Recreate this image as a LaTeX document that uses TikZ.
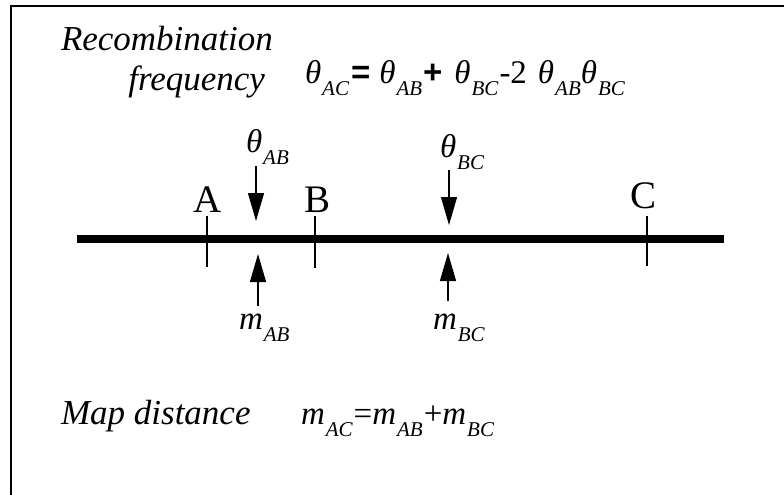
\documentclass[tikz,border=0pt]{standalone}
\usepackage{fontspec}
\setmainfont{Liberation Serif}
\setsansfont{Liberation Sans}
\usetikzlibrary{arrows.meta}
\newcommand\gth{{\itshape θ}}
\newcommand\sbs[1]{\raisebox{-12pt}{\fontsize{21}{21}\selectfont\itshape #1}}
\newcommand\msym{{\itshape m}}
\newcommand\opsym[1]{{\sffamily\bfseries #1}}
\begin{document}
\begin{tikzpicture}[x=1pt,y=-1pt,
  lbl/.style={inner sep=0pt,outer sep=0pt},
  bigtxt/.style={lbl,font=\fontsize{35}{38}\selectfont\itshape},
  eq/.style={lbl,font=\fontsize{33}{36}\selectfont},
  locus/.style={lbl,font=\fontsize{39}{40}\selectfont},
  tick/.style={line width=1.2pt},
  chrom/.style={line width=8pt},
  arr/.style={line width=1.2pt,-{Triangle[width=16pt,length=28pt]}}]
\useasboundingbox (0,0) rectangle (784,495);
\fill[white] (0,0) rectangle (784,495);
% frame (left and top)
\draw[line width=1.6pt] (11,495) -- (11,6) -- (784,6);
% text
\node[bigtxt,anchor=base west] (rec) at (61,51) {Recombination};
\node[bigtxt,anchor=base east] (freq) at (265,90) {frequency};
\node[eq,anchor=base west] (feq) at (305,84) {\gth\kern1pt\sbs{AC}\kern2pt\opsym{=}\kern9pt\gth\kern1pt\sbs{AB}\kern1pt\opsym{+}\kern12pt\gth\kern1pt\sbs{BC}\kern1pt-2\kern11pt\gth\kern1pt\sbs{AB}\gth\kern1pt\sbs{BC}};
\node[bigtxt,anchor=base west] (map) at (61,424) {Map distance};
\node[eq,anchor=base west] (meq) at (301,424) {\msym\kern1pt\sbs{AC}\kern1pt=\msym\kern1pt\sbs{AB}\kern1pt+\msym\kern1pt\sbs{BC}};
% chromosome
\coordinate (L) at (77,239);
\coordinate (R) at (724,239);
\draw[chrom] (L) -- (R);
% ticks
\coordinate (tA1) at (207,216); \coordinate (tA2) at (207,267);
\coordinate (tB1) at (315,216); \coordinate (tB2) at (315,268);
\coordinate (tC1) at (647,216); \coordinate (tC2) at (647,266);
\draw[tick] (tA1) -- (tA2);
\draw[tick] (tB1) -- (tB2);
\draw[tick] (tC1) -- (tC2);
\node[locus,anchor=base] (A) at (208,212) {A};
\node[locus,anchor=base] (B) at (318,212) {B};
\node[locus,anchor=base] (C) at (643,208) {C};
% arrows
\coordinate (a1s) at (256,166); \coordinate (a1e) at (256,221);
\coordinate (a2s) at (449,170); \coordinate (a2e) at (449,225);
\coordinate (a3s) at (258,306); \coordinate (a3e) at (258,254);
\coordinate (a4s) at (448,301); \coordinate (a4e) at (448,253);
\draw[arr] (a1s) -- (a1e);
\draw[arr] (a2s) -- (a2e);
\draw[arr] (a3s) -- (a3e);
\draw[arr] (a4s) -- (a4e);
% arrow labels
\node[eq,anchor=base west] (thAB) at (246,152) {\gth\kern1pt\sbs{AB}};
\node[eq,anchor=base west] (thBC) at (440,157) {\gth\kern1pt\sbs{BC}};
\node[eq,anchor=base west] (mAB) at (239,329) {\msym\kern1pt\sbs{AB}};
\node[eq,anchor=base west] (mBC) at (433,329) {\msym\kern1pt\sbs{BC}};
\end{tikzpicture}
\end{document}
